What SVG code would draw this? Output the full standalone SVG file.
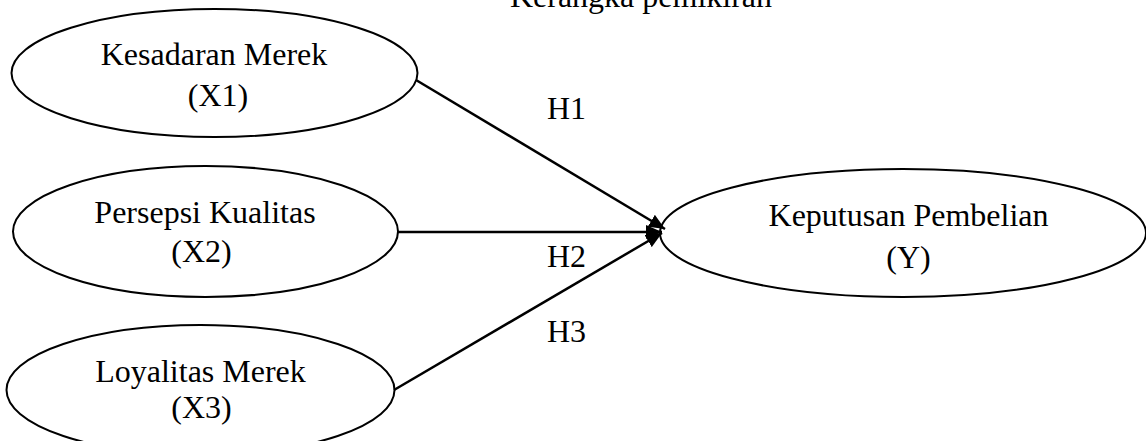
<svg xmlns="http://www.w3.org/2000/svg" width="1146" height="441" viewBox="0 0 1146 441">
<style>
  text { font-family: "Liberation Serif", "Times New Roman", serif; font-size: 32px; fill: #000; }
  .node ellipse { fill: #fff; stroke: #000; stroke-width: 2; }
  .edge { stroke: #000; stroke-width: 2.5; fill: none; marker-end: url(#arrow); }
</style>
<defs>
  <marker id="arrow" markerUnits="userSpaceOnUse" markerWidth="18" markerHeight="14" refX="16" refY="7" orient="auto">
    <path d="M0,0 L16,7 L0,14 Z" fill="#000"/>
  </marker>
</defs>
<rect width="1146" height="441" fill="#fff"/>
<text id="title" x="641" y="7" text-anchor="middle">Kerangka pemikiran</text>
<g id="node-x1" class="node">
  <ellipse cx="214.5" cy="73" rx="203" ry="64"/>
  <text x="214" y="65" text-anchor="middle">Kesadaran Merek</text>
  <text x="218" y="106" text-anchor="middle">(X1)</text>
</g>
<g id="node-x2" class="node">
  <ellipse cx="205.5" cy="231.5" rx="192.5" ry="65.5"/>
  <text x="205" y="223" text-anchor="middle">Persepsi Kualitas</text>
  <text x="201.5" y="262" text-anchor="middle">(X2)</text>
</g>
<g id="node-x3" class="node">
  <ellipse cx="200.5" cy="390" rx="194" ry="65"/>
  <text x="200.5" y="382" text-anchor="middle">Loyalitas Merek</text>
  <text x="201.5" y="418" text-anchor="middle">(X3)</text>
</g>
<g id="node-y" class="node">
  <ellipse cx="903" cy="233" rx="243" ry="64"/>
  <text x="908.5" y="226" text-anchor="middle">Keputusan Pembelian</text>
  <text x="908.5" y="268" text-anchor="middle">(Y)</text>
</g>
<g id="connectors">
  <line class="edge" x1="416" y1="80" x2="665" y2="229"/>
  <line class="edge" x1="397" y1="232" x2="662" y2="232"/>
  <line class="edge" x1="394" y1="390" x2="662" y2="233"/>
  <text x="547" y="119">H1</text>
  <text x="547" y="267">H2</text>
  <text x="547" y="342">H3</text>
</g>
</svg>
